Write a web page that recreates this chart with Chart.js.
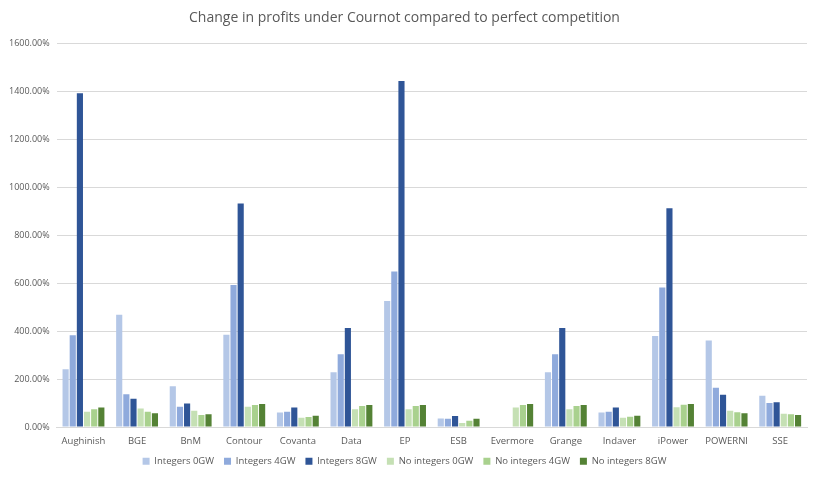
<!DOCTYPE html>
<html>
<head>
<meta charset="utf-8">
<script src="https://cdn.jsdelivr.net/npm/chart.js@4"></script>
<style>
  html, body { margin: 0; padding: 0; background: #fff; }
  #wrap { width: 817px; height: 478px; }
</style>
</head>
<body>
<div id="wrap"><canvas id="profitChart"></canvas></div>
<script>
// firms on the x axis
const firms = ['Aughinish', 'BGE', 'BnM', 'Contour', 'Covanta', 'Data', 'EP', 'ESB',
  'Evermore', 'Grange', 'Indaver', 'iPower', 'POWERNI', 'SSE'];

// change in profits, in percent
const integers0GW = [242, 469, 171, 386, 61, 229, 526, 36, null, 229, 61, 380, 362, 131];
const integers4GW = [383, 137, 85, 593, 64, 304, 650, 35, null, 304, 64, 583, 164, 101];
const integers8GW = [1394, 118, 99, 933, 82, 414, 1445, 46, null, 414, 82, 914, 135, 104];
const noIntegers0GW = [64, 78, 68, 85, 39, 75, 75, 17, 82, 75, 39, 83, 68, 56];
const noIntegers4GW = [75, 64, 51, 92, 42, 88, 88, 26, 92, 88, 43, 93, 62, 54];
const noIntegers8GW = [82, 58, 54, 96, 47, 92, 92, 35, 96, 92, 47, 96, 58, 51];

const yTicks = [0, 200, 400, 600, 800, 1000, 1200, 1400, 1600];

const textColor = '#595959';
const fontFamily = '"Open Sans", sans-serif';

function series(label, data, color) {
    return {
        label: label,
        data: data,
        backgroundColor: color,
        borderWidth: 0,
        categoryPercentage: 0.8,
        barPercentage: 0.86
    };
}

const ctx = document.getElementById('profitChart').getContext('2d');

new Chart(ctx, {
    type: 'bar',
    data: {
        labels: firms,
        datasets: [
            series('Integers 0GW', integers0GW, '#b4c7e7'),
            series('Integers 4GW', integers4GW, '#8faadc'),
            series('Integers 8GW', integers8GW, '#2f5597'),
            series('No integers 0GW', noIntegers0GW, '#c5e0b4'),
            series('No integers 4GW', noIntegers4GW, '#a9d18e'),
            series('No integers 8GW', noIntegers8GW, '#548235')
        ]
    },
    options: {
        responsive: true,
        maintainAspectRatio: false,
        animation: false,
        layout: { padding: { left: 2, right: 10, top: 4, bottom: 2 } },
        plugins: {
            title: {
                display: true,
                text: 'Change in profits under Cournot compared to perfect competition',
                color: textColor,
                font: { family: fontFamily, size: 14, weight: 'normal' },
                padding: { top: 6, bottom: 17 }
            },
            legend: {
                position: 'bottom',
                labels: {
                    color: textColor,
                    font: { family: fontFamily, size: 9.5 },
                    boxWidth: 7,
                    boxHeight: 7,
                    padding: 10
                }
            },
            tooltip: { enabled: false }
        },
        scales: {
            x: {
                grid: { display: false },
                border: { color: '#d9d9d9' },
                ticks: {
                    color: textColor,
                    font: { family: fontFamily, size: 9.5 },
                    maxRotation: 0,
                    autoSkip: false,
                    padding: 0
                }
            },
            y: {
                min: 0,
                max: 1600,
                afterBuildTicks: axis => { axis.ticks = yTicks.map(v => ({ value: v })); },
                grid: { color: '#d9d9d9', drawTicks: false },
                border: { display: false },
                ticks: {
                    color: textColor,
                    font: { family: fontFamily, size: 9 },
                    padding: 7,
                    callback: v => v.toFixed(2) + '%'
                }
            }
        }
    }
});
</script>
</body>
</html>
